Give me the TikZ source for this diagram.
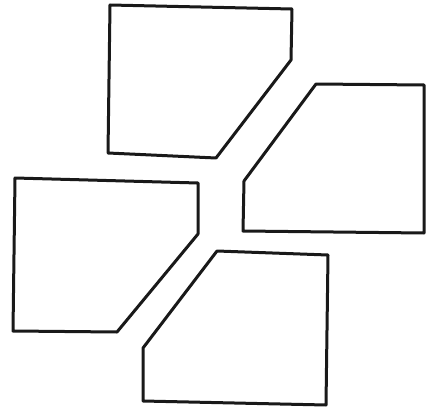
\documentclass[tikz,border=0pt]{standalone}
\usepackage{tikz}
\usetikzlibrary{positioning}

\begin{document}
\begin{tikzpicture}[
  x=1pt,y=-1pt,
  piece/.style={draw=black!90,line width=3pt,line join=round,fill=white}]
\useasboundingbox (0,0) rectangle (428,412);
% top piece
\draw[piece] (110,5) -- (292,9) -- (291,60) -- (216,158) -- (108,153) -- cycle;
% right piece
\draw[piece] (316,84) -- (424,85) -- (424,233) -- (243,231) -- (244,181) -- cycle;
% left piece
\draw[piece] (15,178) -- (198,183) -- (198,234) -- (117,332) -- (13,331) -- cycle;
% bottom piece
\draw[piece] (217,251) -- (328,255) -- (326,405) -- (143,401) -- (143,348) -- cycle;
\end{tikzpicture}
\end{document}
